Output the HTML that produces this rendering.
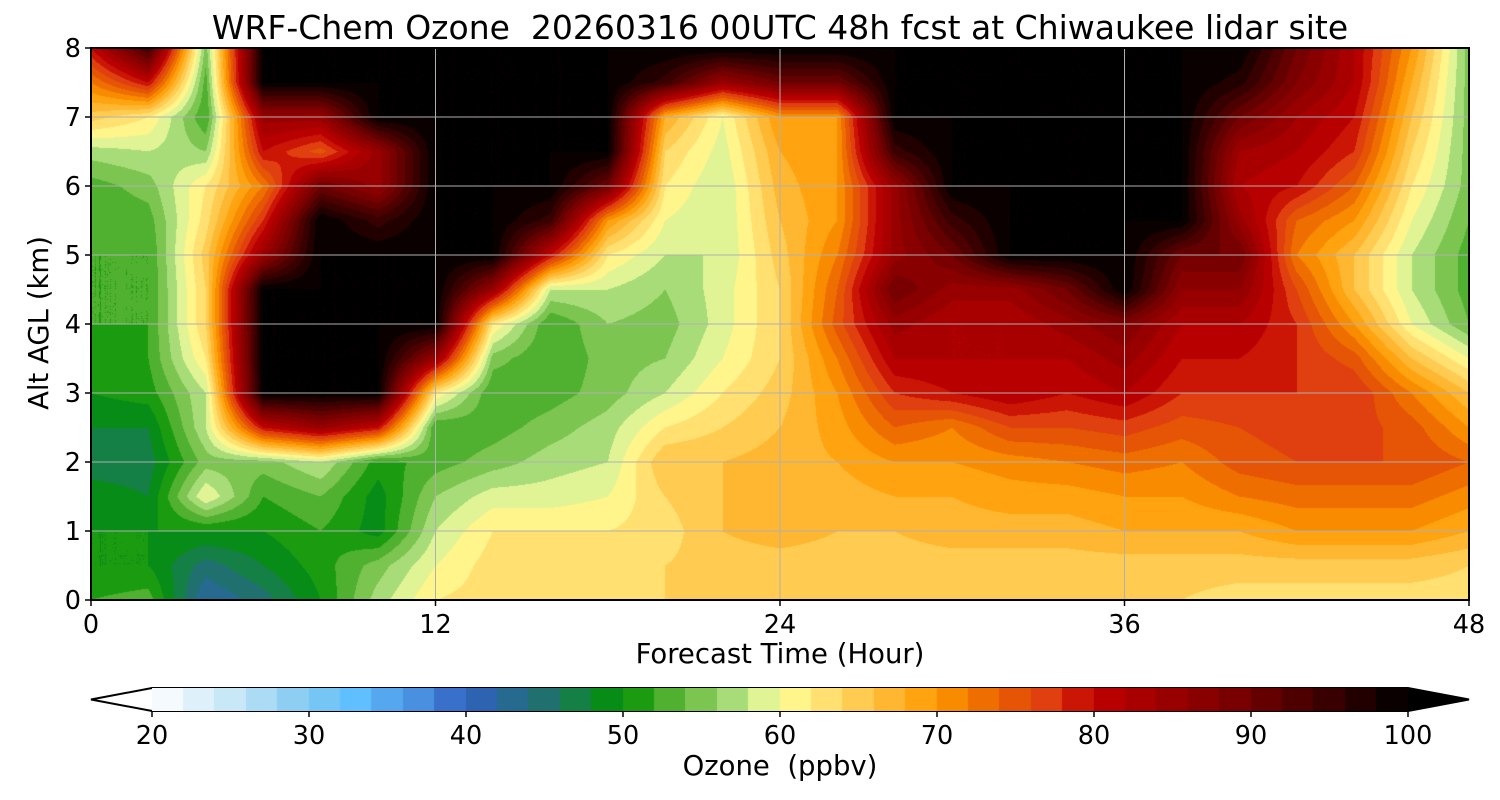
<!DOCTYPE html>
<html><head><meta charset="utf-8">
<style>
body{margin:0;background:#fff;font-family:"DejaVu Sans","Liberation Sans",sans-serif}
#wrap{position:relative;width:1500px;height:800px;overflow:hidden}
.t{position:absolute;color:#000;white-space:nowrap}
svg text{font-family:"DejaVu Sans","Liberation Sans",sans-serif}
</style></head>
<body>
<div id="wrap">
<div class="t" style="left:0;width:1560px;text-align:center;top:8px;font-size:33px">WRF-Chem Ozone&nbsp; 20260316 00UTC 48h fcst at Chiwaukee lidar site</div>
<canvas id="plot" width="1378" height="552" style="position:absolute;left:91px;top:48px"></canvas>
<svg id="ov" width="1500" height="800" style="position:absolute;left:0;top:0"></svg>
<div class="t" style="left:0;width:1560px;text-align:center;top:638px;font-size:27.5px">Forecast Time (Hour)</div>
<div class="t" style="left:-48px;top:307px;font-size:27.5px;transform:rotate(-90deg)">Alt AGL (km)</div>
<canvas id="cbar" width="1256" height="23" style="position:absolute;left:152px;top:688px"></canvas>
<div class="t" style="left:0;width:1560px;text-align:center;top:750px;font-size:27.5px">Ozone&nbsp; (ppbv)</div>
</div>
<script>
const hours=[0,2,4,6,8,10,12,14,16,18,20,22,24,26,28,30,32,34,36,38,40,42,44,46,48];
const altitudes=[0,0.5,1,1.5,2,2.5,3,3.5,4,4.5,5,5.5,6,6.5,7,7.5,8];
const ozoneByHour=[
[52,50,50,49,47,48,50,51,52,52,52,52,53,57,65,72,80],
[53,50,50,48,47,48,51,52,52,52,52,53,55,58,62,80,95],
[42,45,50,60,55,58,58,62,64,64,65,63,62,56,52,53,55],
[45,48,50,52,55,80,100,100,100,100,85,78,72,80,85,100,100],
[50,51,52,54,58,85,100,100,100,100,100,100,90,75,85,100,100],
[57,55,49,49,51,80,100,100,100,100,100,95,85,85,100,100,100],
[62,60,58,56,53,52,62,85,100,100,100,100,100,100,100,100,100],
[63,63,62,59,55,53,52,55,62,85,100,100,100,100,100,100,100],
[63,63,62,59,57,55,53,52,52,58,80,95,100,100,100,100,100],
[63,63,62,60,58,57,55,55,56,58,62,70,90,100,100,100,100],
[64,64,63,64,66,62,58,56,55,56,58,60,62,64,68,95,100],
[64,65,66,66,66,64,62,60,59,59,58,58,58,59,60,85,100],
[64,65,67,67,67,66,65,64,64,64,65,66,67,68,70,90,100],
[64,65,66,67,68,69,70,72,75,74,72,70,70,70,70,90,100],
[64,65,66,68,70,74,78,82,85,90,85,85,85,95,100,100,100],
[64,65,67,68,70,72,80,82,82,85,90,95,100,100,100,100,100],
[65,65,67,69,71,76,82,82,82,85,100,100,100,100,100,100,100],
[65,65,67,69,72,76,80,82,85,90,100,100,100,100,100,100,100],
[64,65,68,70,73,77,82,85,88,100,100,100,100,100,100,100,100],
[64,65,68,70,72,75,78,80,82,86,90,100,100,100,100,100,100],
[63,65,68,72,75,76,78,80,82,86,90,85,82,84,90,97,100],
[63,65,70,73,76,77,78,78,78,76,72,74,80,82,84,88,90],
[63,65,70,73,76,77,78,75,70,66,66,70,74,78,80,82,82],
[63,65,70,73,76,75,72,66,60,58,58,60,62,64,66,68,70],
[63,64,68,71,74,70,66,60,54,53,53,54,55,55,55,55,55]];
const xTicks=[0,12,24,36,48];
const yTicks=[0,1,2,3,4,5,6,7,8];
const cbTicks=[20,30,40,50,60,70,80,90,100];

const stops=[[20,'#ffffff'],[25,'#c8e8f8'],[30,'#80c8f0'],[33,'#60c0ff'],[37,'#4a90e0'],[40,'#3060c0'],[45,'#207070'],[48,'#108830'],[50,'#009000'],[53,'#50b030'],[56,'#90d060'],[58,'#c0e890'],[60,'#ffff99'],[63,'#ffe070'],[66,'#ffc040'],[70,'#ff9900'],[74,'#e86000'],[77,'#e04010'],[80,'#c00000'],[90,'#700000'],[100,'#000000']];
function hex(h){return [1,3,5].map(i=>parseInt(h.substr(i,2),16));}
function cmap(v){v=Math.max(20,Math.min(100,v));
 for(let i=1;i<stops.length;i++){if(v<=stops[i][0]){const a=stops[i-1],b=stops[i];const f=(v-a[0])/(b[0]-a[0]);const ca=hex(a[1]),cb=hex(b[1]);return ca.map((c,k)=>Math.round(c+(cb[k]-c)*f));}}
 return [0,0,0];}
function quant(v){const l=Math.floor((v-20)/2);return 20+l*2+1;}
const X0=91,X1=1469,Y0=600,Y1=48;
const xs=h=>X0+(h-0)/(48-0)*(X1-X0);
const ys=z=>Y0+(z-0)/(8-0)*(Y1-Y0);

const cv=document.getElementById('plot'),ctx=cv.getContext('2d');
const W=cv.width,H=cv.height,img=ctx.createImageData(W,H);
function sample(h,z){
 let i=0;while(i<hours.length-2&&h>hours[i+1])i++;
 let j=0;while(j<altitudes.length-2&&z>altitudes[j+1])j++;
 const fx=(h-hours[i])/(hours[i+1]-hours[i]),fy=(z-altitudes[j])/(altitudes[j+1]-altitudes[j]);
 const a=ozoneByHour[i][j],b=ozoneByHour[i+1][j],c=ozoneByHour[i][j+1],d=ozoneByHour[i+1][j+1];
 return a*(1-fx)*(1-fy)+b*fx*(1-fy)+c*(1-fx)*fy+d*fx*fy;}
for(let py=0;py<H;py++){const z=(Y0-(py+48+0.5))/(Y0-Y1)*8;
 for(let px=0;px<W;px++){const h=(px+0.5)/W*48;
  const c=cmap(quant(sample(h,z)));const o=(py*W+px)*4;
  img.data[o]=c[0];img.data[o+1]=c[1];img.data[o+2]=c[2];img.data[o+3]=255;}}
ctx.putImageData(img,0,0);

const cb=document.getElementById('cbar'),cc=cb.getContext('2d');
for(let v=20;v<100;v+=2){const c=cmap(v+1);cc.fillStyle=`rgb(${c})`;
 const x0=(v-20)/80*cb.width,x1=(v+2-20)/80*cb.width;cc.fillRect(Math.floor(x0),0,Math.ceil(x1-x0)+1,23);}

const svg=document.getElementById('ov'),NS='http://www.w3.org/2000/svg';
function el(t,a,p){const e=document.createElementNS(NS,t);for(const k in a)e.setAttribute(k,a[k]);(p||svg).appendChild(e);return e;}
xTicks.forEach(h=>{const x=xs(h);
 const g=el('line',{x1:x,x2:x,y1:Y1,y2:Y0,stroke:'#b0b0b0','stroke-width':1});
 
 
 el('line',{x1:x,x2:x,y1:Y0,y2:Y0+6,stroke:'#000','stroke-width':1.5});
 const t=el('text',{x:x,y:Y0+33,'text-anchor':'middle','font-size':25.5});t.textContent=h;
 
 });
yTicks.forEach(z=>{const y=ys(z);
 const g=el('line',{x1:X0,x2:X1,y1:y,y2:y,stroke:'#b0b0b0','stroke-width':1});
 
 
 el('line',{x1:X0-6,x2:X0,y1:y,y2:y,stroke:'#000','stroke-width':1.5});
 const t=el('text',{x:X0-10,y:y+9,'text-anchor':'end','font-size':25.5});t.textContent=z;
 
 });
const fr=el('rect',{x:X0,y:Y1,width:X1-X0,height:Y0-Y1,fill:'none',stroke:'#000','stroke-width':2});


const cbx=v=>152+(v-20)/80*1256;
const lt=el('polygon',{points:'91,699.5 152,688 152,711',fill:'#fff',stroke:'none'});


const rt=el('polygon',{points:'1469,699.5 1408,688 1408,711',fill:'#000'});


el('polygon',{points:'91,699.5 152,688 1408,688 1469,699.5 1408,711 152,711',fill:'none',stroke:'#000','stroke-width':2});
cbTicks.forEach(v=>{const x=cbx(v);
 el('line',{x1:x,x2:x,y1:711,y2:717,stroke:'#000','stroke-width':1.5});
 const t=el('text',{x:x,y:744,'text-anchor':'middle','font-size':25.5});t.textContent=v;
 
 });
</script>
</body></html>
